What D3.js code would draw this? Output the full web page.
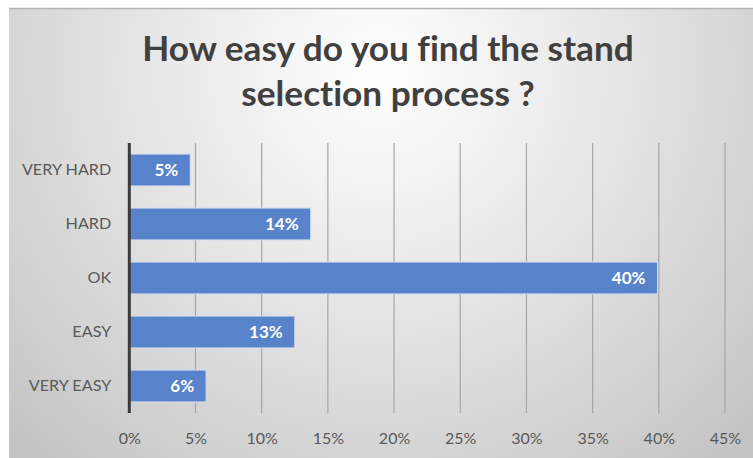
<!DOCTYPE html>
<html>
<head>
<meta charset="utf-8">
<script src="https://cdn.jsdelivr.net/npm/d3@7"></script>
<style>
  html, body { margin: 0; padding: 0; background: #ffffff; }
  svg { display: block; }
  text { font-variant-ligatures: none; }
</style>
</head>
<body>
<svg id="chart" width="753" height="458"></svg>
<script>
// Survey answers, top to bottom, and the share of respondents for each
const categories = ["VERY HARD", "HARD", "OK", "EASY", "VERY EASY"];
const shares = [0.046, 0.137, 0.399, 0.125, 0.058];
const xTicks = [0, 0.05, 0.10, 0.15, 0.20, 0.25, 0.30, 0.35, 0.40, 0.45];
const titleLines = ["How easy do you find the stand", "selection process ?"];

const W = 753, H = 458;
const FONT = "Lato, 'Open Sans', sans-serif";
const svg = d3.select("#chart");

// Panel background: soft radial highlight behind the title
const defs = svg.append("defs");
const grad = defs.append("radialGradient")
  .attr("id", "panelGrad")
  .attr("gradientUnits", "userSpaceOnUse")
  .attr("cx", 380).attr("cy", 70).attr("r", 520);
grad.append("stop").attr("offset", "0").attr("stop-color", "#ffffff");
grad.append("stop").attr("offset", "0.45").attr("stop-color", "#e6e6e6");
grad.append("stop").attr("offset", "1").attr("stop-color", "#c4c4c4");

svg.append("rect").attr("x", 9).attr("y", 8).attr("width", W - 9).attr("height", H - 8)
  .attr("fill", "url(#panelGrad)");
svg.append("line").attr("x1", 9).attr("x2", W).attr("y1", 8.5).attr("y2", 8.5)
  .attr("stroke", "#b4b4b4").attr("stroke-width", 1.5);

// Title
svg.append("text")
  .attr("text-anchor", "middle")
  .attr("font-family", FONT)
  .attr("font-weight", 700).attr("font-size", 35.2).attr("fill", "#404040")
  .selectAll("tspan").data(titleLines).join("tspan")
  .attr("x", 388).attr("y", (d, i) => 61 + i * 45)
  .text(d => d);

// Scales
const plot = { left: 129.3, right: 725, top: 143, bottom: 413 };
const x = d3.scaleLinear().domain([0, 0.45]).range([plot.left, plot.right]);
const y = d3.scaleBand().domain(categories).range([plot.top, plot.bottom]).paddingInner(0.41).paddingOuter(0.205);

// Vertical gridlines
svg.append("g").selectAll("line").data(xTicks.slice(1)).join("line")
  .attr("x1", d => x(d)).attr("x2", d => x(d))
  .attr("y1", plot.top).attr("y2", plot.bottom)
  .attr("stroke", "#a6a6a6").attr("stroke-width", 1.2);

// Bars
svg.append("g").selectAll("rect").data(categories).join("rect")
  .attr("x", x(0))
  .attr("y", d => y(d))
  .attr("width", (d, i) => x(shares[i]) - x(0))
  .attr("height", y.bandwidth())
  .attr("fill", "#5883ca")
  .attr("stroke", "#d2dcf0").attr("stroke-width", 1);

// Value labels inside bar ends
const fmt = d3.format(".0%");
svg.append("g").selectAll("text").data(categories).join("text")
  .attr("x", (d, i) => x(shares[i]) - 12)
  .attr("y", d => y(d) + y.bandwidth() / 2)
  .attr("dy", "0.36em")
  .attr("text-anchor", "end")
  .attr("font-family", FONT)
  .attr("font-weight", 700).attr("font-size", 17).attr("fill", "#ffffff")
  .text((d, i) => fmt(shares[i]));

// Category axis
const yAxis = svg.append("g").attr("transform", `translate(${plot.left},0)`)
  .call(d3.axisLeft(y).tickSize(0).tickPadding(18));
yAxis.select(".domain").remove();
yAxis.selectAll("text")
  .attr("font-family", FONT)
  .attr("font-size", 16.2).attr("fill", "#595959");
svg.append("line").attr("x1", plot.left).attr("x2", plot.left)
  .attr("y1", plot.top).attr("y2", plot.bottom)
  .attr("stroke", "#3a3a3a").attr("stroke-width", 3);

// Value axis
const xAxis = svg.append("g").attr("transform", `translate(0,${plot.bottom})`)
  .call(d3.axisBottom(x).tickValues(xTicks).tickFormat(fmt).tickSize(0).tickPadding(20));
xAxis.select(".domain").remove();
xAxis.selectAll("text")
  .attr("font-family", FONT)
  .attr("font-size", 16).attr("fill", "#595959");
</script>
</body>
</html>
